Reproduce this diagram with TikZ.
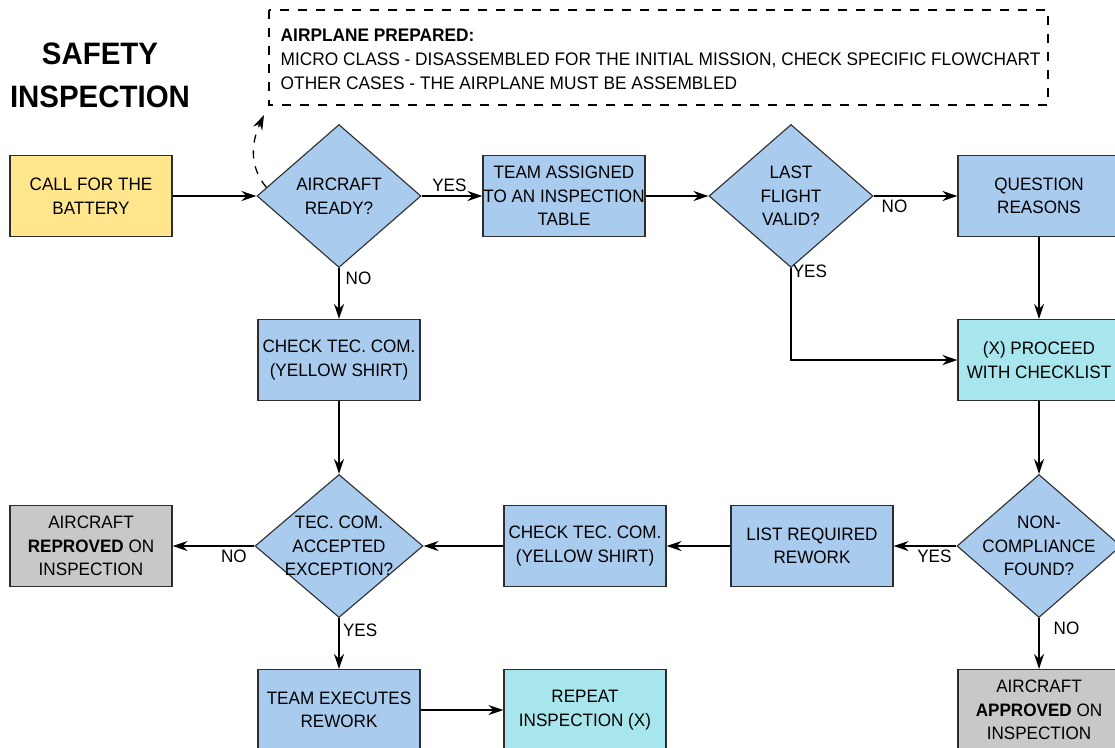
\documentclass[tikz,border=0pt]{standalone}
\usepackage{fontspec}
\setmainfont{Liberation Sans}[FakeStretch=0.95]
\usetikzlibrary{arrows.meta,%
                shapes.geometric,%
                calc,%
                positioning}

\definecolor{boxblue}{RGB}{169,203,238}
\definecolor{boxcyan}{RGB}{168,230,237}
\definecolor{boxgray}{RGB}{200,200,200}
\definecolor{boxyellow}{RGB}{255,230,140}
\definecolor{boxline}{RGB}{45,45,45}

\begin{document}
\begin{tikzpicture}[x=1pt,y=-1pt,style=thick,>={Stealth[length=15pt,width=10pt,inset=5pt]}]
\tikzstyle{process}=[draw=boxline,fill=boxblue,line width=1.1pt,minimum width=162,minimum height=81,inner sep=0pt,align=center,font=\fontsize{18}{23.5}\selectfont]
\tikzstyle{decision}=[draw=boxline,fill=boxblue,line width=1.1pt,shape=diamond,minimum width=164,minimum height=143,inner sep=0pt]
\tikzstyle{question}=[align=center,font=\fontsize{18}{23.5}\selectfont]
\tikzstyle{edge} = [draw,line width=1.5pt,-]
\tikzstyle{answer} = [font=\fontsize{18}{22}\selectfont];

\clip (0,0) rectangle (1115,747);

% title and note
\draw (100,75) node[align=center,font=\fontsize{31}{43}\selectfont\bfseries] (title) {SAFETY\\INSPECTION};
\draw[dash pattern=on 9pt off 9pt,line width=1.3pt] (269,10) rectangle (1048,105);
\draw (277,59) node[anchor=west,align=left,font=\fontsize{18.2}{24}\selectfont] (note) {\textbf{AIRPLANE PREPARED:}\\MICRO CLASS - DISASSEMBLED FOR THE INITIAL MISSION, CHECK SPECIFIC FLOWCHART\\OTHER CASES - THE AIRPLANE MUST BE ASSEMBLED};
\coordinate (notetip) at (264,115);

% top row
\draw (91,196) node[process,fill=boxyellow] (call) {CALL FOR THE\\BATTERY};
\draw (339,196) node[decision,label={[question]center:AIRCRAFT\\READY?}] (ready) {};
\draw (564,196) node[process] (team) {TEAM ASSIGNED\\TO AN INSPECTION\\TABLE};
\draw (791,196) node[decision,label={[question]center:LAST\\FLIGHT\\VALID?}] (last) {};
\draw (1039,196) node[process] (reasons) {QUESTION\\REASONS};

% middle row
\draw (339,360) node[process] (check) {CHECK TEC. COM.\\(YELLOW SHIRT)};
\draw (1039,360) node[process,fill=boxcyan] (proceed) {(X) PROCEED\\WITH CHECKLIST};

% lower row
\draw (91,546) node[process,fill=boxgray] (reproved) {AIRCRAFT\\\textbf{REPROVED} ON\\INSPECTION};
\draw (339,546) node[decision,minimum width=168,label={[question]center:TEC. COM.\\ACCEPTED\\EXCEPTION?}] (accepted) {};
\draw (585,546) node[process] (recheck) {CHECK TEC. COM.\\(YELLOW SHIRT)};
\draw (812,546) node[process] (rework) {LIST REQUIRED\\REWORK};
\draw (1039,546) node[decision,label={[question]center:NON-\\COMPLIANCE\\FOUND?}] (found) {};

% bottom row
\draw (339,710) node[process] (execute) {TEAM EXECUTES\\REWORK};
\draw (585,710) node[process,fill=boxcyan] (repeat) {REPEAT\\INSPECTION (X)};
\draw (1039,710) node[process,fill=boxgray] (approved) {AIRCRAFT\\\textbf{APPROVED} ON\\INSPECTION};

\path[edge,->] (call) -- (ready);
\path[edge,->] (ready) -- node[answer,above,xshift=-0.5ex] {YES} (team);
\path[edge,->] (team) -- (last);
\path[edge,->] (last) -- node[answer,below,pos=0.25] {NO} (reasons);
\path[edge,->] (ready) -- node[answer,right,pos=0.2,xshift=0.5ex] {NO} (check);
\path[edge,->] (last) |- node[answer,anchor=west,pos=0.02,inner sep=1pt] {YES} (proceed);
\path[edge,->] (reasons) -- (proceed);
\path[edge,->] (check) -- (accepted);
\path[edge,->] (proceed) -- (found);
\path[edge,->] (found) -- node[answer,below,pos=0.35] {YES} (rework);
\path[edge,->] (rework) -- (recheck);
\path[edge,->] (recheck) -- (accepted);
\path[edge,->] (accepted) -- node[answer,below,pos=0.25] {NO} (reproved);
\path[edge,->] (accepted) -- node[answer,right,pos=0.25] {YES} (execute);
\path[edge,->] (found) -- node[answer,right,pos=0.2,xshift=2ex] {NO} (approved);
\path[edge,->] (execute) -- (repeat);
\path[draw,line width=1.3pt,dash pattern=on 8pt off 8pt,->] ($(ready.west)!0.12!(ready.north)$) to[out=130,in=245] (notetip);
\end{tikzpicture}
\end{document}
